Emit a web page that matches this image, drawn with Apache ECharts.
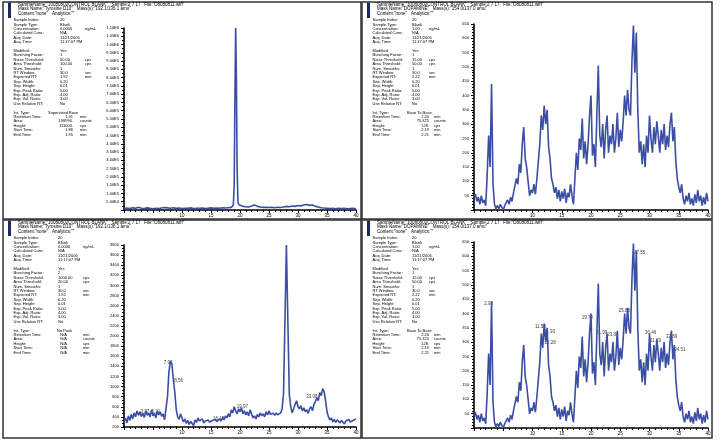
<!DOCTYPE html>
<html>
<head>
<meta charset="utf-8">
<script src="https://cdn.jsdelivr.net/npm/echarts@6/dist/echarts.min.js"></script>
<style>
html, body { margin: 0; padding: 0; background: #fff; }
#chart { width: 722px; height: 444px; }
</style>
</head>
<body>
<div id="chart"></div>
<script>
// chromatogram 1 (top left) - irregular sampling around the big spike
var tlTime = [0, 0.5, 1, 1.5, 2, 2.5, 3, 3.5, 4, 4.5, 5, 5.5, 6, 6.5, 7, 7.5, 8, 8.5, 9, 9.5,
    10, 10.5, 11, 11.5, 12, 12.5, 13, 13.5, 14, 14.5, 15, 15.5, 16, 16.5, 17, 17.5, 18, 18.5,
    18.85, 19.0, 19.12, 19.25, 19.38, 19.5, 19.65, 19.8,
    20, 20.5, 21, 21.5, 22, 22.5, 23, 23.5, 24, 24.5, 25, 25.5, 26, 26.5, 27, 27.5, 28, 28.5, 29, 29.5,
    30, 30.5, 31, 31.5, 32, 32.5, 33, 33.5, 34, 34.5, 35, 35.5, 36, 36.5, 37, 37.5, 38, 38.5, 39, 39.5, 40];
var tlVal = [8000, 12000, 9000, 14000, 10000, 16000, 11000, 9000, 13000, 10000, 8000, 11000, 9000, 12000, 15000, 13000, 11000, 14000, 10000, 12000,
    9000, 11000, 10000, 13000, 9000, 11000, 10000, 12000, 9000, 11000, 13000, 10000, 12000, 11000, 13000, 12000, 14000, 16000,
    30000, 150000, 650000, 1100000, 800000, 250000, 50000, 32000,
    25000, 22000, 20000, 18000, 24000, 30000, 22000, 18000, 16000, 17000, 15000, 16000, 14000, 17000, 15000, 18000, 22000, 20000, 24000, 22000,
    27000, 25000, 30000, 33000, 28000, 30000, 22000, 18000, 14000, 12000, 11000, 9000, 10000, 8000, 11000, 9000, 10000, 8000, 9000, 10000, 8000];

// chromatogram 2 (top right, repeated bottom right), one reading every 0.25 min from 0 to 40
var sampleStep = 0.25;
var trVal = [
    40, 55, 30, 45, 20, 50, 25, 35, 15, 120, 260, 150, 440, 90, 20, 5, 15, 5, 20, 10,
    0, 15, 10, 35, 20, 45, 30, 60, 85, 110, 90, 160, 130, 230, 290, 180, 150, 100, 50, 70,
    60, 90, 55, 110, 170, 230, 330, 280, 365, 300, 350, 220, 180, 110, 90, 60, 80, 40, 70, 30,
    65, 40, 75, 25, 60, 45, 90, 50, 20, 110, 200, 140, 250, 210, 320, 180, 240, 160, 230, 330,
    400, 190, 230, 150, 330, 505, 260, 220, 300, 180, 280, 330, 200, 260, 230, 300, 200, 250, 340, 220,
    280, 240, 310, 400, 330, 420, 350, 330, 520, 645, 480, 620, 350, 200, 240, 160, 230, 150, 260, 200,
    330, 250, 200, 290, 230, 310, 260, 200, 280, 230, 300, 210, 260, 220, 300, 340, 240, 290, 170, 110,
    80, 60, 90, 40, 20, 50, 30, 60, 20, 40, 15, 55, 25, 70, 30, 50, 15, 45, 20, 60,
    30];

// chromatogram 3 (bottom left)
var blVal = [
    300, 380, 280, 420, 330, 450, 360, 480, 400, 520, 430, 500, 410, 470, 390, 520, 430, 480, 400, 540,
    420, 470, 380, 520, 440, 500, 410, 460, 340, 330, 800, 1300, 1500, 1450, 1150, 900, 550, 400, 350, 460,
    380, 300, 360, 270, 330, 250, 310, 280, 230, 340, 290, 380, 320, 300, 360, 280, 320, 290, 340, 300,
    270, 330, 300, 350, 310, 280, 360, 320, 390, 340, 420, 380, 460, 400, 540, 480, 600, 520, 460, 560,
    500, 580, 460, 520, 440, 500, 420, 540, 460, 380, 420, 360, 450, 400, 480, 420, 460, 400, 500, 440,
    520, 450, 420, 470, 430, 480, 440, 460, 480, 550, 850, 2300, 3800, 2300, 850, 600, 480, 560, 650, 720,
    600, 560, 620, 520, 580, 500, 540, 470, 560, 600, 520, 650, 700, 780, 720, 880, 820, 960, 900, 720,
    500, 400, 340, 380, 300, 350, 290, 340, 310, 280, 330, 300, 260, 320, 290, 350, 300, 270, 330, 300,
    360];

// peak annotations (time, height, text)
var blPeakT = [3.6, 5.5, 7.6, 9.4, 16.3, 20.4, 32.4];
var blPeakV = [500, 500, 1480, 1110, 370, 610, 800];
var blPeakTxt = ['3.37', '5.21', '7.93', '8.56', '16.13', '19.97', '33.08'];
var brPeakT = [2.5, 11.35, 12.9, 13.0, 19.4, 21.8, 23.75, 25.7, 28.3, 30.2, 31.0, 33.8, 35.2];
var brPeakV = [433, 354, 337, 297, 385, 333, 325, 408, 612, 334, 305, 320, 274];
var brPeakTxt = ['2.93', '11.58', '11.93', '12.28', '19.73', '21.99', '23.84', '25.88', '27.55', '30.46', '31.29', '33.89', '34.51'];

var headTL = ['SampleName:"10080802CONTROL BLANK"   Sample:2 7 17   File:"D8080811.wiff"',
    'Mass Name:"Tyrosine D10"   Mass(s):"192.1/136.1 amu"', 'Content:"none"   Analytics:""'];
var headTR = ['SampleName:"10080802CONTROL BLANK"   Sample:2 7 17   File:"D8080811.wiff"',
    'Mass Name:"DOPAMINE"   Mass(s):"154.0/137.0 amu"', 'Content:"none"   Analytics:""'];
var headBL = ['SampleName:"10080802CONTROL BLANK"   Sample:2 7 17   File:"D8080811.wiff"',
    'Mass Name:"Tyrosine D10"   Mass(s):"192.1/136.1 amu"', 'Content:"none"   Analytics:""'];

var infoLabels = ['Sample Index:', 'Sample Type:', 'Concentration:', 'Calculated Conc:', 'Acq. Date:', 'Acq. Time:', '',
    'Modified:', 'Bunching Factor:', 'Noise Threshold:', 'Area Threshold:', 'Num. Smooths:', 'RT Window:', 'Expected RT:',
    'Sep. Width:', 'Sep. Height:', 'Exp. Peak Ratio:', 'Exp. Adj. Ratio:', 'Exp. Val. Ratio:', 'Use Relative RT:', '',
    'Int. Type:', 'Retention Time:', 'Area:', 'Height:', 'Start Time:', 'End Time:'];
var infoUnits = ['', '', 'ng/mL', '', '', '', '', '', '', 'cps', 'cps', '', 'sec', 'min', '', '', '', '', '', '', '',
    '', 'min', 'counts', 'cps', 'min', 'min'];
var infoTL = ['20', 'Blank', '0.0000', 'N/A', '11/21/2006', '11:17:07 PM', '', 'Yes', '1', '50.00', '100.00', '1', '30.0', '1.92',
    '0.20', '0.01', '5.00', '4.00', '3.00', 'No', '', 'Supervised Base', '1.91', '198990.', '111000.', '1.86', '1.95'];
var infoTR = ['20', 'Blank', '1.00', 'N/A', '11/21/2006', '11:17:07 PM', '', 'Yes', '1', '15.00', '50.00', '1', '30.0', '2.22',
    '0.20', '0.01', '5.00', '4.00', '3.00', 'No', '', 'Base To Base', '2.20', '75.325', '128.', '2.19', '2.21'];
var infoBL = ['20', 'Blank', '0.0000', 'N/A', '11/21/2006', '11:17:07 PM', '', 'Yes', '2', '1000.00', '20.00', '1', '30.0', '1.92',
    '0.20', '0.01', '5.00', '4.00', '3.00', 'No', '', 'No Peak', 'N/A', 'N/A', 'N/A', 'N/A', 'N/A'];

var blue = '#3a4fa3';
var txtFont = '"Liberation Sans", Arial, sans-serif';

function steps(vals) {
    var out = [];
    for (var i = 0; i < vals.length; i++) out.push([i * sampleStep, vals[i]]);
    return out;
}
function zip(a, b) {
    var out = [];
    for (var i = 0; i < a.length; i++) out.push([a[i], b[i]]);
    return out;
}
function zip3(a, b, c) {
    var out = [];
    for (var i = 0; i < a.length; i++) out.push([a[i], b[i], c[i]]);
    return out;
}

var myChart = echarts.init(document.getElementById('chart'), null, { renderer: 'canvas' });

var grids = [
    { left: 124, top: 28, width: 232, height: 182 },
    { left: 474, top: 24, width: 234, height: 186 },
    { left: 124, top: 245, width: 232, height: 182 },
    { left: 474, top: 242, width: 234, height: 186 }
];

function xAx(i) {
    return {
        type: 'value', gridIndex: i, min: 0, max: 40, interval: 5,
        axisLine: { onZero: false, lineStyle: { color: '#000', width: 1.6 } },
        axisTick: { length: 3, lineStyle: { color: '#000' } },
        minorTick: { show: true, splitNumber: 5, length: 2, lineStyle: { color: '#000' } },
        splitLine: { show: false },
        axisLabel: {
            fontSize: 4.5, color: '#000', margin: 3, fontFamily: txtFont,
            formatter: function (v) { return v < 10 ? '' : String(v); }
        }
    };
}
function yAx(i, min, max, interval, minorSplit, fmt) {
    return {
        type: 'value', gridIndex: i, min: min, max: max, interval: interval,
        axisLine: { show: true, lineStyle: { color: '#000', width: 1.6 } },
        axisTick: { show: true, length: 3, lineStyle: { color: '#000' } },
        minorTick: { show: true, splitNumber: minorSplit, length: 2, lineStyle: { color: '#000' } },
        splitLine: { show: false },
        axisLabel: { fontSize: 4, color: '#000', margin: 5, fontFamily: txtFont, showMaxLabel: true, formatter: fmt }
    };
}
function line(i, data) {
    return {
        type: 'line', xAxisIndex: i, yAxisIndex: i, data: data, showSymbol: false, symbol: 'none',
        lineStyle: { color: blue, width: 1.6 }, animation: false, silent: true
    };
}
function peakLabels(i, data) {
    return {
        type: 'scatter', xAxisIndex: i, yAxisIndex: i, data: data, symbolSize: 0, animation: false, silent: true,
        label: {
            show: true, position: 'inside', fontSize: 4.5, color: '#000', fontFamily: txtFont,
            formatter: function (p) { return p.data[2]; }
        }
    };
}

var panels = [
    { ox: 0, oy: 0, w: 358, h: 217, head: headTL, info: infoTL, vx: 60, ux: 85, ix: 48, ir: 73, iu: 80 },
    { ox: 359, oy: 0, w: 350, h: 217, head: headTR, info: infoTR, vx: 53, ux: 70, ix: 48, ir: 70, iu: 75 },
    { ox: 0, oy: 218, w: 358, h: 218, head: headBL, info: infoBL, vx: 58, ux: 83, ix: 57, ir: 67, iu: 83 },
    { ox: 359, oy: 218, w: 350, h: 218, head: headTR, info: infoTR, vx: 53, ux: 70, ix: 48, ir: 70, iu: 75 }
];

var graphics = [];
function txt(x, y, s, size, align) {
    graphics.push({
        type: 'text', x: x, y: y, silent: true,
        style: { text: s, font: size + 'px ' + txtFont, fill: '#000', align: align || 'left', verticalAlign: 'middle' }
    });
}
panels.forEach(function (p) {
    graphics.push({
        type: 'rect', silent: true,
        shape: { x: p.ox + 3, y: p.oy + 2, width: p.w, height: p.h },
        style: { fill: 'none', stroke: '#333', lineWidth: 1.5 }
    });
    graphics.push({
        type: 'rect', silent: true,
        shape: { x: p.ox + 8, y: p.oy + 2.5, width: 3, height: 15.5 },
        style: { fill: '#1d2a5e' }
    });
    txt(p.ox + 18, p.oy + 4.3, p.head[0], 4.5);
    txt(p.ox + 18, p.oy + 8.8, p.head[1], 4.5);
    txt(p.ox + 18, p.oy + 13.5, p.head[2], 4.5);
    for (var r = 0; r < infoLabels.length; r++) {
        if (!infoLabels[r]) continue;
        var y = p.oy + 20 + r * 4.4;
        txt(p.ox + 13.5, y, infoLabels[r], 4);
        if (r < 21) {
            txt(p.ox + p.vx, y, p.info[r], 4);
            if (infoUnits[r]) txt(p.ox + p.ux, y, infoUnits[r], 4);
        } else if (r === 21) {
            txt(p.ox + p.ix, y, p.info[r], 4);
        } else {
            txt(p.ox + p.ir, y, p.info[r], 4, 'right');
            txt(p.ox + p.iu, y, infoUnits[r], 4);
        }
    }
});

var fmtE = function (v) { return v === 0 ? '' : v.toExponential(2).toUpperCase().replace('+', ''); };
var fmtPlain = function (v) { return v === 0 ? '' : String(v); };

var option = {
    animation: false,
    backgroundColor: '#fff',
    grid: grids,
    xAxis: [xAx(0), xAx(1), xAx(2), xAx(3)],
    yAxis: [
        yAx(0, 0, 1100000, 50000, 2, fmtE),
        yAx(1, 0, 650, 50, 5, fmtPlain),
        yAx(2, 200, 3800, 200, 3, fmtPlain),
        yAx(3, 0, 650, 50, 5, fmtPlain)
    ],
    series: [
        line(0, zip(tlTime, tlVal)),
        line(1, steps(trVal)),
        line(2, steps(blVal)),
        line(3, steps(trVal)),
        peakLabels(2, zip3(blPeakT, blPeakV, blPeakTxt)),
        peakLabels(3, zip3(brPeakT, brPeakV, brPeakTxt))
    ],
    graphic: graphics
};
myChart.setOption(option);
</script>
</body>
</html>
